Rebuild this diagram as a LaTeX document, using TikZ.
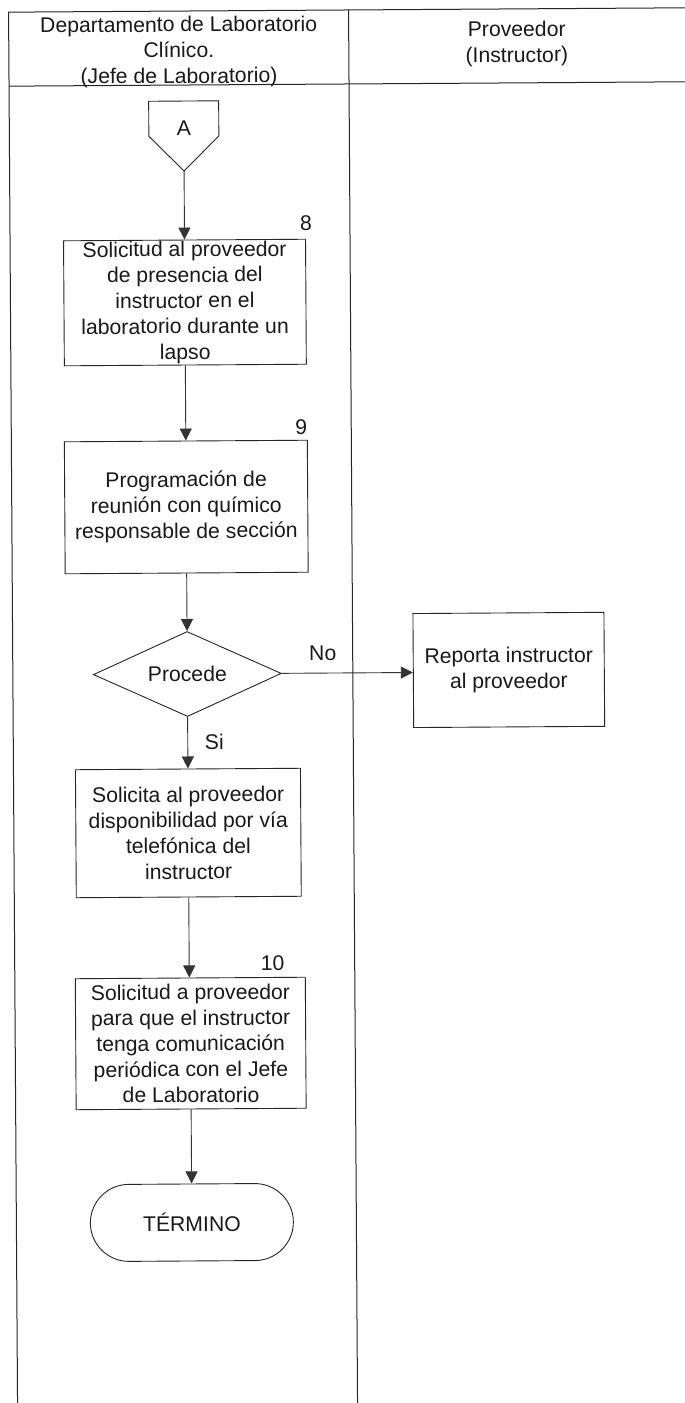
\documentclass[tikz,border=0pt]{standalone}
\usepackage{fontspec}
\setmainfont{Liberation Sans}
\usetikzlibrary{shapes.geometric,arrows.meta}
\tikzset{
  base/.style={font=\fontsize{21.2}{25.7}\selectfont, text=black!90},
  procbox/.style={base, draw=black!85, line width=0.9pt, align=center, inner sep=0pt},
  flow/.style={draw=black!80, line width=0.9pt, -{Triangle[length=12pt,width=12pt]}},
  lane/.style={draw=black!85, line width=1pt},
  lbl/.style={base, inner sep=0pt},
}
\begin{document}
\begin{tikzpicture}[x=1pt,y=-1pt]
\useasboundingbox (0,0) rectangle (685,1403);
\fill[white] (0,0) rectangle (685,1403);
\begin{scope}[rotate around={0.37:(342,700)}, transform shape]
  % swimlanes
  \draw[lane] (13,1420) -- (13,10) -- (700,10);
  \draw[lane] (13,84) -- (700,84);
  \draw[lane] (353,10) -- (353,1420);
  \node[lbl, align=center] (h1) at (183,51) {Departamento de Laboratorio\\Clínico.\\(Jefe de Laboratorio)};
  \node[lbl, align=center] (h2) at (521,45) {Proveedor\\(Instructor)};

  % off-page connector A
  \draw[draw=black!85, line width=0.9pt] (152.5,100) -- (222.5,100) -- (222.5,135) -- (187.5,170) -- (152.5,135) -- cycle;
  \node[lbl] (A) at (187.5,127) {A};
  \coordinate (Atip) at (187.5,170);

  \node[procbox, minimum width=242pt, minimum height=125pt] (b8) at (187.5,301.5)
    {Solicitud al proveedor\\de presencia del\\instructor en el\\laboratorio durante un\\lapso};
  \node[lbl] (n8) at (309,223) {8};

  \node[procbox, minimum width=243pt, minimum height=132pt] (b9) at (187.5,506)
    {Programación de\\reunión con químico\\responsable de sección};
  \node[lbl] (n9) at (303,427) {9};

  \node[procbox, diamond, aspect=2.21, minimum width=188pt, minimum height=85pt] (dec) at (187.5,673) {Procede};

  \node[procbox, minimum width=191pt, minimum height=114pt] (rep) at (509,671)
    {Reporta instructor\\al proveedor};
  \node[lbl] (no) at (323,653) {No};
  \node[lbl] (si) at (214,741) {Si};

  \node[procbox, minimum width=225pt, minimum height=128pt] (b11) at (187.5,832)
    {Solicita al proveedor\\disponibilidad por vía\\telefónica del\\instructor};

  \node[procbox, minimum width=230pt, minimum height=131pt] (b10) at (188.5,1042.5)
    {Solicitud a proveedor\\para que el instructor\\tenga comunicación\\periódica con el Jefe\\de Laboratorio};
  \node[lbl] (n10) at (271,963) {10};

  \node[procbox, minimum width=203pt, minimum height=77pt, rounded corners=38.5pt] (term) at (188.5,1221.5) {TÉRMINO};

  % connectors
  \draw[flow] (Atip) -- (b8.north);
  \draw[flow] (b8.south) -- (b9.north);
  \draw[flow] (b9.south) -- (dec.north);
  \draw[flow] (dec.east) -- (dec.east -| rep.west);
  \draw[flow] (dec.south) -- (b11.north);
  \draw[flow] (b11.south) -- (b11.south |- b10.north);
  \draw[flow] (b10.south) -- (term.north);
\end{scope}
\end{tikzpicture}
\end{document}
